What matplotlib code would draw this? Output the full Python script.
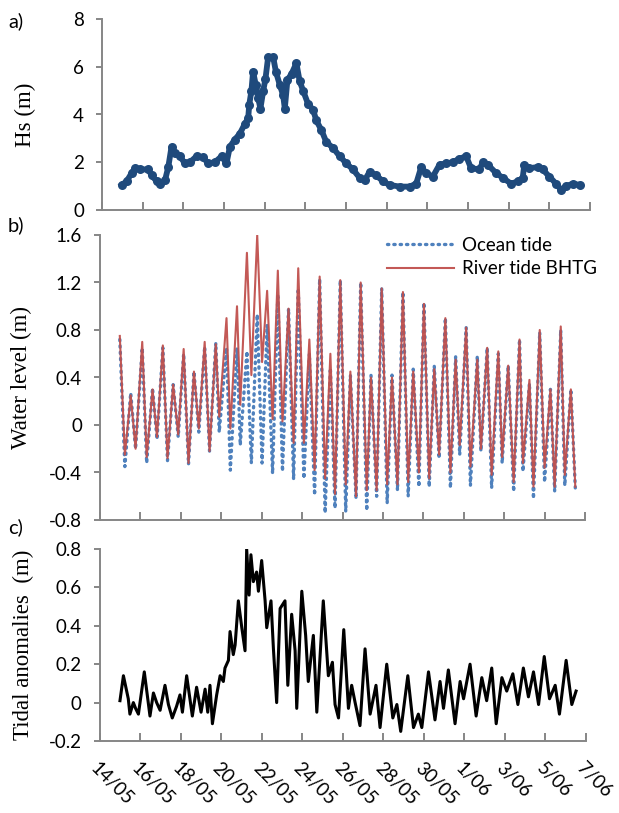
import matplotlib
matplotlib.use('Agg')
import matplotlib.pyplot as plt
import numpy as np

plt.rcParams['font.family'] = ['Lato', 'DejaVu Sans']

# x is in days counted from 14/05 00:00
tick_days = list(range(0, 25, 2))
date_labels = ['14/05', '16/05', '18/05', '20/05', '22/05', '24/05', '26/05',
               '28/05', '30/05', '1/06', '3/06', '5/06', '7/06']

# a) significant wave height
hs_day = [0.97, 1.21, 1.46, 1.62, 1.87, 2.28, 2.44, 2.69, 2.85, 3.10,
          3.26, 3.42, 3.59, 3.83, 4.08, 4.32, 4.65, 4.98, 5.22, 5.55,
          5.88, 6.12, 6.29, 6.53, 6.78, 7.02, 7.19, 7.24, 7.35, 7.43,
          7.56, 7.68, 7.79, 7.93, 8.04, 8.17, 8.42, 8.55, 8.74, 8.91,
          8.99, 9.12, 9.32, 9.56, 9.72, 9.89, 10.13, 10.38, 10.54, 10.79,
          11.03, 11.36, 11.69, 12.02, 12.34, 12.67, 12.92, 13.16, 13.49, 13.82,
          14.14, 14.64, 15.13, 15.45, 15.70, 15.94, 16.27, 16.60, 16.93, 17.25,
          17.58, 17.91, 18.15, 18.56, 18.73, 18.97, 19.38, 19.71, 20.12, 20.45,
          20.69, 20.77, 21.02, 21.43, 21.67, 22.00, 22.33, 22.57, 22.82, 23.15,
          23.50]
hs_m = [1.05, 1.2, 1.55, 1.75, 1.7, 1.7, 1.45, 1.2, 1.1, 1.25,
        1.8, 2.65, 2.4, 2.25, 1.95, 2.0, 2.25, 2.2, 1.95, 2.0,
        2.25, 1.95, 2.65, 2.95, 3.2, 3.6, 3.85, 4.4, 5.0, 5.8,
        5.25, 4.7, 4.25, 5.0, 5.5, 6.4, 6.4, 5.8, 5.25, 4.8,
        4.25, 5.45, 5.7, 6.15, 5.4, 5.0, 4.45, 4.2, 3.75, 3.35,
        2.85, 2.6, 2.25, 1.95, 1.7, 1.35, 1.25, 1.6, 1.45, 1.2,
        1.05, 0.98, 0.98, 1.1, 1.8, 1.55, 1.4, 1.9, 1.95, 2.0,
        2.15, 2.25, 1.75, 1.7, 2.0, 1.9, 1.55, 1.35, 1.1, 1.2,
        1.35, 1.9, 1.75, 1.8, 1.7, 1.4, 1.1, 0.85, 1.0, 1.1,
        1.05]

# b) water level: high and low water times and levels
high_day = [0.98, 1.52, 2.09, 2.60, 3.11, 3.62, 4.14, 4.65, 5.18, 5.73,
            6.26, 6.78, 7.27, 7.78, 8.27, 8.80, 9.33, 9.81, 10.36, 10.87,
            11.40, 11.89, 12.39, 12.90, 13.41, 13.94, 14.45, 14.99, 15.50, 16.03,
            16.54, 17.09, 17.60, 18.12, 18.67, 19.16, 19.71, 20.20, 20.76, 21.25,
            21.76, 22.29, 22.80, 23.30]
low_day = [1.23, 1.76, 2.31, 2.82, 3.34, 3.87, 4.38, 4.89, 5.42, 5.90,
           6.45, 6.94, 7.49, 8.02, 8.54, 9.03, 9.58, 10.09, 10.62, 11.14,
           11.63, 12.16, 12.67, 13.20, 13.69, 14.21, 14.72, 15.25, 15.78, 16.29,
           16.78, 17.34, 17.80, 18.33, 18.85, 19.38, 19.90, 20.47, 20.93, 21.45,
           22.00, 22.50, 23.00, 23.52]
river_high = [0.75, 0.25, 0.70, 0.30, 0.67, 0.34, 0.64, 0.45, 0.70, 0.68,
              0.90, 1.00, 1.45, 1.60, 1.13, 1.30, 0.98, 1.32, 0.72, 1.25,
              0.60, 1.22, 0.45, 1.20, 0.40, 1.15, 0.40, 1.12, 0.45, 1.02,
              0.47, 0.90, 0.55, 0.82, 0.55, 0.65, 0.62, 0.50, 0.72, 0.38,
              0.80, 0.30, 0.83, 0.30]
river_low = [-0.25, -0.20, -0.27, -0.10, -0.28, -0.08, -0.32, -0.03, -0.22, 0.07,
             -0.03, 0.17, 0.42, 0.53, 0.05, 0.03, -0.15, -0.15, -0.38, -0.45,
             -0.58, -0.50, -0.60, -0.55, -0.55, -0.50, -0.50, -0.48, -0.40, -0.45,
             -0.25, -0.40, -0.17, -0.35, -0.20, -0.42, -0.27, -0.48, -0.32, -0.52,
             -0.36, -0.52, -0.42, -0.52]
ocean_high = [0.72, 0.27, 0.65, 0.31, 0.65, 0.34, 0.60, 0.45, 0.66, 0.69,
              0.65, 0.65, 0.62, 0.93, 0.84, 1.10, 0.98, 1.15, 0.60, 1.23,
              0.48, 1.22, 0.42, 1.20, 0.42, 1.15, 0.42, 1.12, 0.47, 1.03,
              0.50, 0.90, 0.58, 0.82, 0.58, 0.65, 0.60, 0.50, 0.72, 0.35,
              0.78, 0.30, 0.80, 0.30]
ocean_low = [-0.35, -0.20, -0.32, -0.12, -0.30, -0.10, -0.33, -0.06, -0.22, -0.06,
             -0.38, -0.17, -0.32, -0.32, -0.41, -0.39, -0.46, -0.45, -0.59, -0.74,
             -0.70, -0.73, -0.62, -0.72, -0.60, -0.66, -0.55, -0.60, -0.52, -0.52,
             -0.28, -0.53, -0.25, -0.51, -0.22, -0.53, -0.32, -0.56, -0.39, -0.62,
             -0.48, -0.56, -0.51, -0.53]

# c) tidal anomalies
anom_day = [1.01, 1.18, 1.42, 1.50, 1.67, 1.78, 1.92, 2.21, 2.49, 2.66,
            2.82, 2.99, 3.23, 3.40, 3.59, 3.80, 3.97, 4.09, 4.30, 4.58,
            4.79, 5.01, 5.21, 5.34, 5.45, 5.57, 5.78, 5.95, 6.11, 6.19,
            6.36, 6.44, 6.60, 6.69, 6.85, 7.02, 7.18, 7.26, 7.38, 7.47,
            7.59, 7.75, 7.84, 8.00, 8.17, 8.25, 8.46, 8.58, 8.74, 8.91,
            9.15, 9.29, 9.48, 9.65, 9.73, 9.98, 10.17, 10.30, 10.55, 10.72,
            11.04, 11.29, 11.49, 11.62, 11.79, 12.05, 12.28, 12.44, 12.61, 12.85,
            13.10, 13.35, 13.64, 13.84, 14.17, 14.47, 14.67, 14.86, 15.21, 15.49,
            15.73, 15.90, 16.23, 16.55, 16.80, 16.97, 17.21, 17.54, 17.79, 17.96,
            18.28, 18.58, 18.86, 19.10, 19.35, 19.57, 19.85, 20.09, 20.39, 20.64,
            20.91, 21.16, 21.41, 21.66, 21.94, 22.20, 22.48, 22.69, 23.02, 23.30,
            23.51]
anom_m = [0.01, 0.14, 0.02, -0.06, 0.00, -0.03, -0.06, 0.16, -0.07, 0.05,
          0.00, -0.04, 0.09, -0.01, -0.08, -0.02, 0.04, -0.05, 0.14, -0.07,
          0.08, -0.05, 0.07, -0.05, 0.09, -0.11, 0.04, 0.14, 0.11, 0.18,
          0.22, 0.37, 0.25, 0.30, 0.53, 0.39, 0.27, 0.80, 0.56, 0.77,
          0.63, 0.68, 0.58, 0.74, 0.53, 0.39, 0.53, 0.28, 0.00, 0.49,
          0.53, 0.09, 0.46, 0.27, -0.03, 0.58, 0.35, 0.11, 0.35, -0.05,
          0.53, 0.14, 0.21, -0.01, -0.08, 0.38, -0.03, 0.09, 0.00, -0.12,
          0.28, -0.06, 0.09, -0.13, 0.20, -0.08, -0.01, -0.15, 0.14, -0.13,
          -0.06, -0.13, 0.16, -0.09, 0.11, -0.03, 0.17, -0.11, 0.11, 0.02,
          0.20, -0.07, 0.13, 0.01, 0.18, -0.11, 0.13, 0.06, 0.15, -0.01,
          0.18, 0.03, 0.16, -0.01, 0.24, 0.02, 0.09, -0.06, 0.22, -0.01,
          0.06]

# interleave highs and lows into one time series per gauge
tide_day = np.ravel(np.column_stack([high_day, low_day]))
ocean_tide = np.ravel(np.column_stack([ocean_high, ocean_low]))
river_tide = np.ravel(np.column_stack([river_high, river_low]))

W, H = 619, 813
fig = plt.figure(figsize=(W / 100, H / 100), dpi=100)


def px_axes(left, top, right, bottom):
    return fig.add_axes([left / W, 1 - bottom / H, (right - left) / W, (bottom - top) / H])


GREY = '#868686'


def style(ax):
    for s in ['top', 'right']:
        ax.spines[s].set_visible(False)
    for s in ['left', 'bottom']:
        ax.spines[s].set_color(GREY)
        ax.spines[s].set_linewidth(1.4)
    ax.tick_params(axis='y', direction='out', length=4, width=1.4, color=GREY,
                   labelsize=13.5, pad=9)
    ax.tick_params(axis='x', direction='in', length=6, width=1.4, color=GREY,
                   labelsize=13.5)
    ax.set_xlim(0, 24)
    ax.set_xticks(tick_days)


serif = {'family': 'Liberation Serif', 'size': 16.5}

# --- a) Hs ---
ax_a = px_axes(102, 19, 590, 210)
style(ax_a)
ax_a.plot(hs_day, hs_m, '-o', color='#1F4A7C', lw=4.2, ms=6.5, mew=0)
ax_a.set_ylim(0, 8)
ax_a.set_yticks([0, 2, 4, 6, 8])
ax_a.tick_params(axis='x', labelbottom=False)
ax_a.set_ylabel('Hs (m)', fontdict=serif)
ax_a.yaxis.set_label_coords(-0.135, 0.5)

# --- b) water level ---
ax_b = px_axes(100, 235, 585, 520)
style(ax_b)
ax_b.plot(tide_day, ocean_tide, color='#4F81BD', lw=2.4,
          linestyle=(0, (0.4, 1.5)), dash_capstyle='round', label='Ocean tide')
ax_b.plot(tide_day, river_tide, color='#C0504D', lw=1.5, alpha=0.95,
          label='River tide BHTG')
ax_b.set_ylim(-0.8, 1.6)
ax_b.set_yticks([-0.8, -0.4, 0, 0.4, 0.8, 1.2, 1.6])
ax_b.set_yticklabels(['-0.8', '-0.4', '0', '0.4', '0.8', '1.2', '1.6'])
ax_b.tick_params(axis='x', labelbottom=False)
ax_b.set_ylabel('Water level (m)', fontdict=serif)
ax_b.yaxis.set_label_coords(-0.14, 0.5)
ax_b.legend(loc='upper right', bbox_to_anchor=(1.04, 1.02), frameon=False,
            fontsize=13.5, handlelength=3.6, handletextpad=0.4,
            labelspacing=0.35, borderaxespad=0)

# --- c) tidal anomalies ---
ax_c = px_axes(99.5, 549, 586, 741)
style(ax_c)
ax_c.plot(anom_day, anom_m, color='black', lw=2.2)
ax_c.set_ylim(-0.2, 0.8)
ax_c.set_yticks([-0.2, 0, 0.2, 0.4, 0.6, 0.8])
ax_c.set_yticklabels(['-0.2', '0', '0.2', '0.4', '0.6', '0.8'])
ax_c.set_xticklabels(date_labels, rotation=-45, ha='left', va='top',
                     rotation_mode='anchor')
ax_c.tick_params(axis='x', pad=13)
ax_c.set_ylabel('Tidal anomalies  (m)', fontdict=serif)
ax_c.yaxis.set_label_coords(-0.135, 0.5)

# panel letters
for txt, ypx in [('a)', 21), ('b)', 225), ('c)', 527)]:
    fig.text(8 / W, 1 - ypx / H, txt, fontsize=14.5, ha='left', va='center')

fig.savefig('out.png', dpi=100)
